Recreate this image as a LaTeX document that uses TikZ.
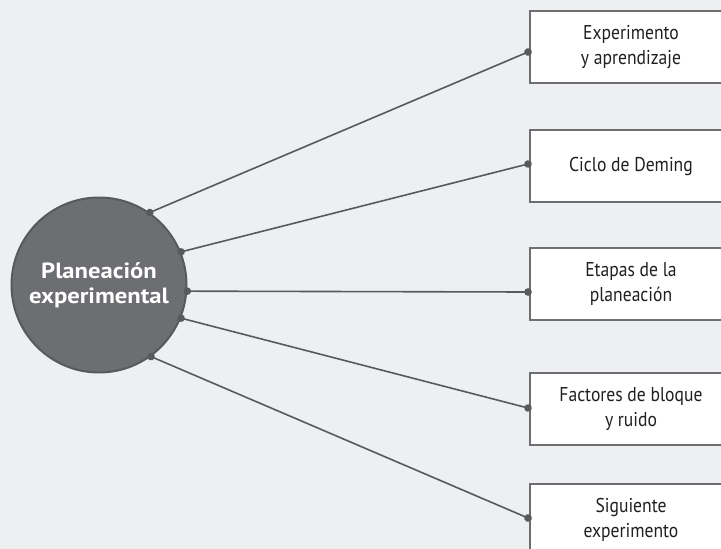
\documentclass[tikz,border=0pt]{standalone}
\usepackage{fontspec}
\setmainfont[FakeStretch=0.88]{PT Sans}
\newfontfamily\hubfont[FakeStretch=1.12]{PT Sans}
\usetikzlibrary{arrows.meta,positioning,calc}
\definecolor{peBack}{HTML}{EEEFF1}
\definecolor{peHub}{HTML}{6D6E71}
\definecolor{peHubEdge}{HTML}{58595B}
\definecolor{peLine}{HTML}{58595B}
\definecolor{peBoxEdge}{HTML}{6D6E71}
\definecolor{peText}{HTML}{231F20}
\tikzset{
  pehub/.style={circle,draw=peHubEdge,line width=2pt,fill=peHub,text=white,align=center,
                minimum size=175pt,inner sep=0pt,font=\hubfont\bfseries\fontsize{22}{25}\selectfont},
  pebox/.style={draw=peBoxEdge,line width=2pt,fill=white,text=peText,align=center,
                minimum width=202pt,minimum height=72pt,inner sep=3pt,font=\fontsize{20}{25}\selectfont},
  pelink/.style={draw=peLine,line width=1.6pt,{Circle[length=7.5pt]}-{Circle[length=7.5pt]},
                 shorten <=-3.75pt,shorten >=-3.75pt},
}
\begin{document}
\begin{tikzpicture}[x=1pt,y=-1pt]
  \useasboundingbox (0,0) rectangle (721,549);
  \clip (0,0) rectangle (721,549);
  \fill[peBack] (0,0) rectangle (721,549);

  \node[pehub] (plan) at (99,285) {Planeación\\experimental};

  \node[pebox] (exp) at (631,47) {Experimento\\y aprendizaje};
  \node[pebox] (deming) at (631,166) {Ciclo de Deming};
  \node[pebox] (etapas) at (631,283.5) {Etapas de la\\planeación};
  \node[pebox] (bloque) at (631,409) {Factores de bloque\\y ruido};
  \node[pebox] (sig) at (631,520) {Siguiente\\experimento};

  % spokes from the hub to each box
  \draw[pelink] (plan.55) -- ($(exp.west)+(-1,5)$);
  \draw[pelink] (plan.22) -- ($(deming.west)+(-1,-2)$);
  \draw[pelink] (plan.-4.6) -- ($(etapas.west)+(-1,8.5)$);
  \draw[pelink] (plan.-22.4) -- ($(bloque.west)+(-1,-1)$);
  \draw[pelink] (plan.-54.5) -- ($(sig.west)+(-1,-2)$);
\end{tikzpicture}
\end{document}
